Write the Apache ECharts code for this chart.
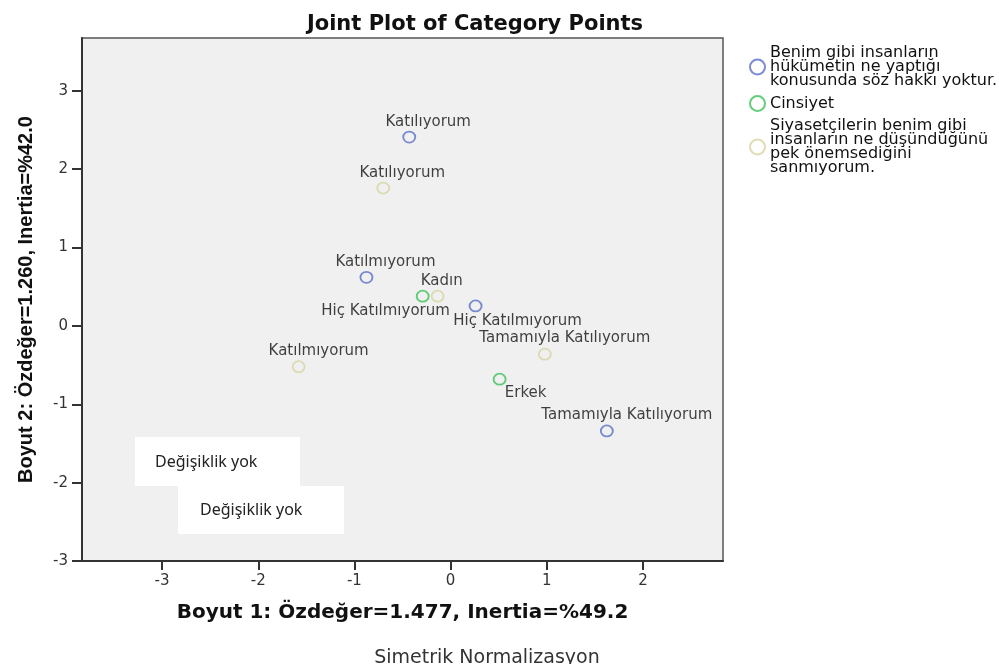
<!DOCTYPE html>
<html>
<head>
<meta charset="utf-8">
<style>
  html, body { margin: 0; padding: 0; background: #fff; }
  #chart { width: 999px; height: 664px; }
</style>
<script src="https://cdn.jsdelivr.net/npm/echarts@6/dist/echarts.min.js"></script>
</head>
<body>
<div id="chart"></div>
<script>
// legend / series names
const seriesNames = [
  'Benim gibi insanların\nhükümetin ne yaptığı\nkonusunda söz hakkı yoktur.',
  'Cinsiyet',
  'Siyasetçilerin benim gibi\ninsanların ne düşündüğünü\npek önemsediğini\nsanmıyorum.'
]
const seriesColors = ['#5a6fc8', '#3dc05a', '#d8d3a2']

// category points (dimension 1, dimension 2)
const sozHakkiLabels = ['Katılıyorum', 'Katılmıyorum', 'Hiç Katılmıyorum', 'Tamamıyla Katılıyorum']
const sozHakkiX = [-0.43, -0.875, 0.26, 1.625]
const sozHakkiY = [2.41, 0.62, 0.255, -1.34]

const cinsiyetLabels = ['Kadın', 'Erkek']
const cinsiyetX = [-0.29, 0.51]
const cinsiyetY = [0.38, -0.68]

const siyasetLabels = ['Katılıyorum', 'Hiç Katılmıyorum', 'Katılmıyorum', 'Tamamıyla Katılıyorum']
const siyasetX = [-0.70, -0.135, -1.58, 0.98]
const siyasetY = [1.76, 0.38, -0.52, -0.36]

// where each point label sits relative to its marker (px)
const sozHakkiOffsets = [[19, -15], [19, -15], [42, 15], [20, -16]]
const cinsiyetOffsets = [[19, -15], [26, 14]]
const siyasetOffsets = [[19, -15], [-52, 15], [20, -16], [20, -16]]

const xTicks = [-3, -2, -1, 0, 1, 2]
const yTicks = [-3, -2, -1, 0, 1, 2, 3]

function points(xs, ys, labels, offsets) {
  return xs.map((x, i) => ({
    value: [x, ys[i]],
    name: labels[i],
    label: { offset: offsets[i] }
  }))
}

const chart = echarts.init(document.getElementById('chart'))
const sets = [
  points(sozHakkiX, sozHakkiY, sozHakkiLabels, sozHakkiOffsets),
  points(cinsiyetX, cinsiyetY, cinsiyetLabels, cinsiyetOffsets),
  points(siyasetX, siyasetY, siyasetLabels, siyasetOffsets)
]

chart.setOption({
  animation: false,
  backgroundColor: '#fff',
  title: {
    text: 'Joint Plot of Category Points',
    left: 470, top: 9, textAlign: 'center',
    textStyle: { fontFamily: 'DejaVu Sans', fontWeight: 'bold', fontSize: 21, color: '#111' }
  },
  legend: {
    orient: 'vertical', left: 744, top: 40, itemGap: 6,
    itemWidth: 15, itemHeight: 15, icon: 'circle',
    data: seriesNames,
    itemStyle: { borderWidth: 2 },
    textStyle: { fontFamily: 'DejaVu Sans', fontSize: 16, lineHeight: 14, color: '#111' }
  },
  grid: {
    left: 82, right: 276, top: 38, bottom: 103,
    show: true, backgroundColor: '#f0f0f0', borderColor: '#555', borderWidth: 1.5
  },
  xAxis: {
    type: 'value', min: -3.833, max: 2.833,
    name: 'Boyut 1: Özdeğer=1.477, Inertia=%49.2',
    nameLocation: 'middle', nameGap: 42,
    nameTextStyle: { fontFamily: 'DejaVu Sans', fontWeight: 'bold', fontSize: 20, color: '#111' },
    axisLine: { onZero: false, lineStyle: { color: '#333', width: 2 } },
    axisTick: { show: true, length: 9, lineStyle: { color: '#333', width: 2 }, customValues: xTicks },
    axisLabel: { margin: 13, color: '#333', fontFamily: 'DejaVu Sans', fontSize: 15, customValues: xTicks },
    splitLine: { show: false }
  },
  yAxis: {
    type: 'value', min: -3, max: 3.675,
    name: 'Boyut 2: Özdeğer=1.260, Inertia=%42.0',
    nameLocation: 'middle', nameGap: 46,
    nameTextStyle: { fontFamily: 'Liberation Sans', fontWeight: 'bold', fontSize: 20, color: '#111' },
    axisLine: { show: true, onZero: false, lineStyle: { color: '#333', width: 2 } },
    axisTick: { show: true, length: 10, lineStyle: { color: '#333', width: 2 }, customValues: yTicks },
    axisLabel: { margin: 14, color: '#333', fontFamily: 'DejaVu Sans', fontSize: 15, customValues: yTicks },
    splitLine: { show: false }
  },
  series: sets.map((data, i) => ({
    name: seriesNames[i],
    type: 'scatter',
    symbol: 'circle',
    symbolSize: [12, 11],
    itemStyle: { color: 'transparent', borderColor: seriesColors[i], borderWidth: 1.8 },
    label: {
      show: true, position: 'inside', formatter: '{b}',
      fontFamily: 'DejaVu Sans', fontSize: 15, color: '#111'
    },
    emphasis: { disabled: true },
    data
  })),
  graphic: [
    { type: 'rect', shape: { x: 135, y: 437, width: 165, height: 49 }, style: { fill: '#fff' }, z: 100 },
    { type: 'rect', shape: { x: 178, y: 486, width: 166, height: 48 }, style: { fill: '#fff' }, z: 100 },
    { type: 'text', x: 155, y: 462, z: 101,
      style: { text: 'Değişiklik yok', fontFamily: 'Noto Sans', fontSize: 16, fill: '#222', verticalAlign: 'middle' } },
    { type: 'text', x: 200, y: 510, z: 101,
      style: { text: 'Değişiklik yok', fontFamily: 'Noto Sans', fontSize: 16, fill: '#222', verticalAlign: 'middle' } },
    { type: 'text', x: 487, y: 658, z: 101,
      style: { text: 'Simetrik Normalizasyon', fontFamily: 'DejaVu Sans', fontSize: 19, fill: '#333', align: 'center', verticalAlign: 'middle' } }
  ]
})
</script>
</body>
</html>
